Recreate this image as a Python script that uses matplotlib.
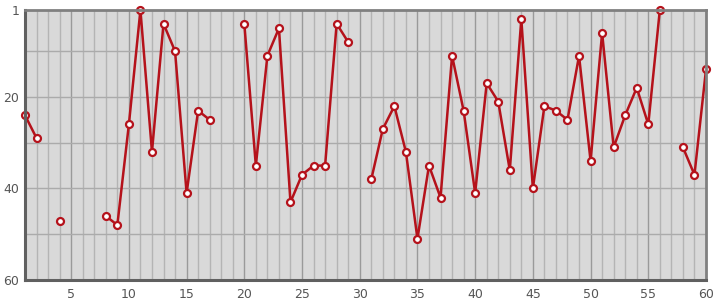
import numpy as np
import matplotlib
matplotlib.use('Agg')
import matplotlib.pyplot as plt

# rank per position (None = no data)
positions = list(range(1, 61))
ranks = [24, 29, None, 47, None, None, None, 46, 48, 26,
         1, 32, 4, 10, 41, 23, 25, None, None, 4,
         35, 11, 5, 43, 37, 35, 35, 4, 8, None,
         38, 27, 22, 32, 51, 35, 42, 11, 23, 41,
         17, 21, 36, 3, 40, 22, 23, 25, 11, 34,
         6, 31, 24, 18, 26, 1, None, 31, 37, 14]

x_ticks = [5, 10, 15, 20, 25, 30, 35, 40, 45, 50, 55, 60]
y_ticks = [1, 20, 40, 60]
y_grid = [10, 20, 30, 40, 50]

y = np.array([np.nan if r is None else r for r in ranks], dtype=float)
x = np.array(positions)

fig = plt.figure(figsize=(7.15, 3.0), dpi=100)
ax = fig.add_axes([25 / 715, 20 / 300, 681 / 715, 270 / 300])
ax.set_facecolor('#d9d9d9')

# grid: every unit vertically, heavier every 5
for xv in range(2, 60):
    c = '#9a9a9a' if xv % 5 == 0 else '#b4b4b4'
    ax.axvline(xv, color=c, lw=1.0, zorder=1)
for yv in y_grid:
    ax.axhline(yv, color='#ababab', lw=1.0, zorder=1)

ax.plot(x, y, color='#b5121b', lw=1.8, zorder=3,
        marker='o', markersize=5, markerfacecolor='white',
        markeredgecolor='#b5121b', markeredgewidth=1.6, clip_on=False)

ax.set_xlim(1, 60)
ax.set_ylim(60, 1)
ax.set_xticks(x_ticks)
ax.set_yticks(y_ticks)
ax.tick_params(length=0, labelsize=9, colors='#555555')
ax.tick_params(axis='x', pad=6)
ax.tick_params(axis='y', pad=4)

for side in ['top', 'right']:
    ax.spines[side].set_color('#808080')
    ax.spines[side].set_linewidth(2.0)
for side in ['left', 'bottom']:
    ax.spines[side].set_color('#606060')
    ax.spines[side].set_linewidth(2.2)
for s in ax.spines.values():
    s.set_zorder(4)

fig.savefig('out.png', dpi=100, facecolor='white')
